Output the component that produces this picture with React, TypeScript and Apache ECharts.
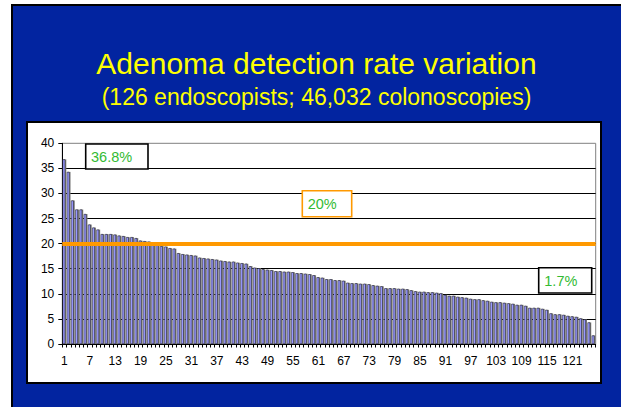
import { useEffect, useRef } from "react";
import * as echarts from "echarts";

const endoscopists: string[] = Array.from({ length: 126 }, (_, i) => String(i + 1));

const adrValues: number[] = [
  36.8, 34.3, 28.6, 26.8, 26.8, 25.9, 23.8, 23.2, 22.8, 21.9,
  21.9, 21.9, 21.8, 21.6, 21.5, 21.3, 21.3, 21.1, 20.6, 20.5,
  20.4, 20.2, 19.9, 19.5, 19.4, 19.1, 19.0, 18.1, 17.9, 17.8,
  17.7, 17.6, 17.2, 17.1, 17.0, 16.9, 16.8, 16.6, 16.5, 16.4,
  16.4, 16.2, 16.1, 16.0, 15.5, 15.2, 15.1, 14.9, 14.8, 14.7,
  14.5, 14.5, 14.4, 14.4, 14.3, 14.1, 14.1, 14.0, 13.9, 13.7,
  13.3, 13.2, 12.9, 12.9, 12.7, 12.7, 12.6, 12.2, 12.1, 12.1,
  12.0, 12.0, 11.9, 11.7, 11.6, 11.5, 11.1, 11.1, 11.1, 11.0,
  11.0, 10.9, 10.7, 10.5, 10.4, 10.4, 10.3, 10.3, 10.2, 10.1,
  9.8, 9.6, 9.6, 9.4, 9.3, 9.2, 9.0, 8.9, 8.9, 8.7,
  8.6, 8.4, 8.3, 8.3, 8.2, 8.1, 8.0, 7.8, 7.8, 7.6,
  7.2, 7.2, 7.2, 7.0, 6.8, 6.1, 5.9, 5.9, 5.8, 5.6,
  5.5, 5.4, 5.1, 4.9, 4.3, 1.7,
];

const benchmarkValue = 20;
const yMin = 0;
const yMax = 40;
const yStep = 5;

const titleText = "Adenoma detection rate variation";
const subtitleText = "(126 endoscopists; 46,032 colonoscopies)";
const calloutTexts = ["36.8%", "20%", "1.7%"];

const FONT = '"Liberation Sans", Arial, sans-serif';
const GREEN = "#33BB33";

export default function App() {
  const ref = useRef<HTMLDivElement>(null);

  useEffect(() => {
    const chart = echarts.init(ref.current!, null, { renderer: "svg" });
    chart.setOption({
      animation: false,
      backgroundColor: "#ffffff",
      grid: {
        left: 62.3,
        right: 25.3,
        top: 143.3,
        bottom: 63,
        show: true,
        borderColor: "#808080",
        borderWidth: 1,
        backgroundColor: "transparent",
      },
      xAxis: {
        type: "category",
        data: endoscopists,
        boundaryGap: true,
        axisLine: { show: true, lineStyle: { color: "#000", width: 1 } },
        axisTick: { show: true, interval: 0, length: 3.5, lineStyle: { color: "#000", width: 1 } },
        axisLabel: {
          interval: 5,
          fontSize: 12,
          fontFamily: FONT,
          color: "#000",
          margin: 11,
        },
        splitLine: { show: false },
      },
      yAxis: {
        type: "value",
        min: yMin,
        max: yMax,
        interval: yStep,
        axisLine: { show: true, lineStyle: { color: "#000", width: 1 } },
        axisTick: { show: true, length: 4, lineStyle: { color: "#000", width: 1 } },
        axisLabel: { fontSize: 12, fontFamily: FONT, color: "#000", margin: 8 },
        splitLine: { show: true, showMaxLine: false, lineStyle: { color: "#000", width: 1 } },
      },
      series: [
        {
          type: "bar",
          name: "ADR",
          data: adrValues,
          barWidth: 2.7,
          barGap: "-60%",
          z: 3,
          itemStyle: { color: "#9999FF", borderColor: "#111", borderWidth: 0.5 },
          markLine: {
            silent: true,
            symbol: "none",
            z: 10,
            label: { show: false },
            lineStyle: { color: "#FF9900", width: 4, type: "solid" },
            data: [{ yAxis: benchmarkValue }],
          },
        },
        {
          type: "bar",
          name: "shadow",
          data: adrValues,
          barWidth: 2.7,
          barGap: "-60%",
          z: 2,
          itemStyle: { color: "#7c7c7c" },
        },
      ],
      graphic: [
        {
          type: "rect",
          z: -10,
          shape: { x: 12, y: 5, width: 700, height: 500 },
          style: { fill: "#0224A0", stroke: "#000", lineWidth: 2 },
        },
        {
          type: "rect",
          z: -9,
          shape: { x: 27, y: 122, width: 574, height: 261 },
          style: { fill: "#ffffff", stroke: "#000", lineWidth: 2 },
        },
        {
          type: "text",
          z: 20,
          x: 316.5,
          y: 63,
          style: {
            text: titleText,
            fill: "#FFFF00",
            fontSize: 30,
            fontFamily: FONT,
            align: "center",
            verticalAlign: "middle",
          },
        },
        {
          type: "text",
          z: 20,
          x: 316.5,
          y: 96.5,
          style: {
            text: subtitleText,
            fill: "#FFFF00",
            fontSize: 23,
            fontFamily: FONT,
            align: "center",
            verticalAlign: "middle",
          },
        },
        {
          type: "rect",
          z: 20,
          shape: { x: 85.7, y: 144, width: 62.3, height: 25 },
          style: { fill: "#fff", stroke: "#000", lineWidth: 1.6 },
        },
        {
          type: "text",
          z: 21,
          x: 91,
          y: 157,
          style: { text: calloutTexts[0], fill: GREEN, fontSize: 14.5, fontFamily: FONT, align: "left", verticalAlign: "middle" },
        },
        {
          type: "rect",
          z: 20,
          shape: { x: 302.3, y: 190.7, width: 49.4, height: 26 },
          style: { fill: "#fff", stroke: "#FF9900", lineWidth: 1.6 },
        },
        {
          type: "text",
          z: 21,
          x: 307.7,
          y: 204,
          style: { text: calloutTexts[1], fill: GREEN, fontSize: 14.5, fontFamily: FONT, align: "left", verticalAlign: "middle" },
        },
        {
          type: "rect",
          z: 20,
          shape: { x: 538.7, y: 267.7, width: 53, height: 25.3 },
          style: { fill: "#fff", stroke: "#000", lineWidth: 1.6 },
        },
        {
          type: "text",
          z: 21,
          x: 544.3,
          y: 280.5,
          style: { text: calloutTexts[2], fill: GREEN, fontSize: 14.5, fontFamily: FONT, align: "left", verticalAlign: "middle" },
        },
      ],
    });
    return () => chart.dispose();
  }, []);

  return (
    <div
      ref={ref}
      style={{ position: "absolute", left: 0, top: 0, width: 621, height: 407 }}
    />
  );
}
